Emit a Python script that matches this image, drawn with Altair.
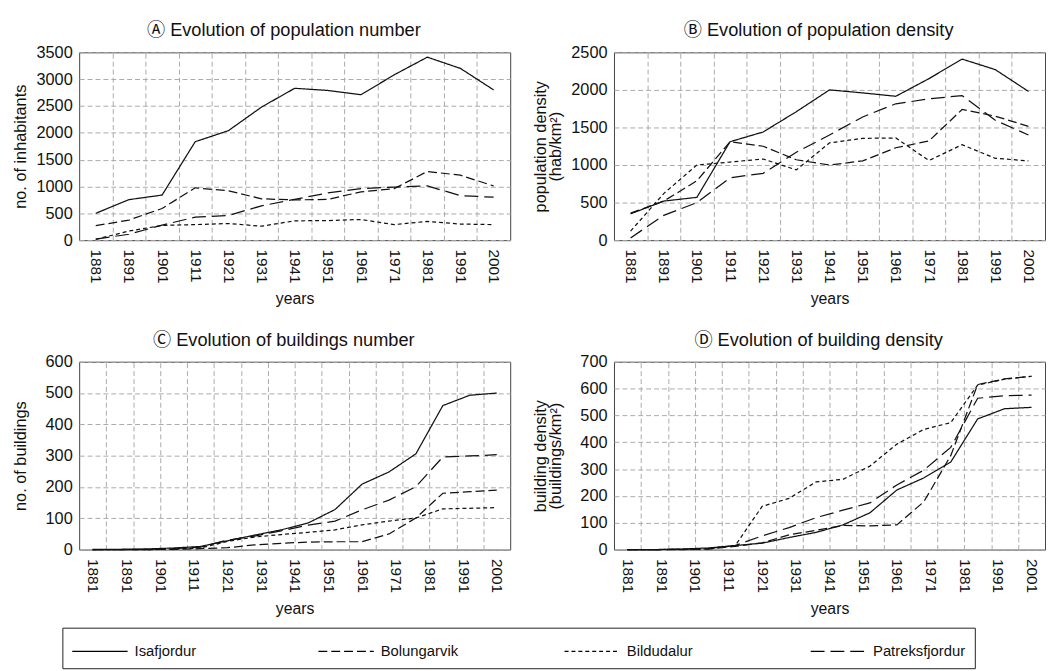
import altair as alt
import pandas as pd

# ---------------- data ----------------
towns = ["Isafjordur", "Bolungarvik", "Bildudalur", "Patreksfjordur"]
dashes = [[1, 0], [9, 4], [4, 3], [14, 6]]

years_pop = [1881, 1891, 1901, 1911, 1921, 1931, 1941, 1951, 1961, 1971, 1981, 1991, 2001]
years_bld = [1881, 1889, 1897, 1905, 1913, 1921, 1929, 1937, 1945, 1953, 1961, 1969, 1977, 1985, 1993, 2001]
label_years = [1881, 1891, 1901, 1911, 1921, 1931, 1941, 1951, 1961, 1971, 1981, 1991, 2001]
grid_pop = [1886, 1896, 1906, 1916, 1926, 1936, 1946, 1956, 1966, 1976, 1986, 1996]
grid_bld = [1885, 1893, 1901, 1909, 1917, 1925, 1933, 1941, 1949, 1957, 1965, 1973, 1981, 1989, 1997]

pop_isa = [500, 755, 840, 1835, 2040, 2480, 2830, 2790, 2710, 3080, 3410, 3200, 2800]
pop_bol = [270, 375, 590, 975, 920, 770, 750, 760, 900, 960, 1280, 1210, 1010]
pop_bil = [15, 170, 275, 290, 310, 260, 360, 365, 385, 290, 350, 300, 290]
pop_pat = [20, 110, 280, 430, 460, 640, 760, 880, 960, 990, 1010, 830, 800]

den_isa = [350, 520, 570, 1310, 1440, 1710, 2000, 1960, 1915, 2150, 2410, 2270, 1980]
den_bol = [360, 520, 790, 1310, 1250, 1070, 1000, 1055, 1230, 1320, 1740, 1650, 1515]
den_bil = [120, 620, 1000, 1040, 1080, 935, 1295, 1355, 1360, 1060, 1270, 1090, 1055]
den_pat = [30, 330, 500, 830, 890, 1170, 1400, 1640, 1815, 1880, 1925, 1595, 1400]

bld_isa = [1, 1, 2, 5, 10, 28, 46, 63, 85, 128, 209, 248, 306, 460, 493, 500]
bld_bol = [0, 0, 0, 1, 3, 6, 15, 20, 24, 25, 25, 50, 101, 180, 185, 190]
bld_bil = [0, 0, 0, 2, 5, 26, 40, 48, 55, 63, 79, 91, 101, 130, 132, 134]
bld_pat = [0, 0, 1, 3, 8, 30, 43, 60, 78, 91, 127, 158, 201, 296, 299, 303]

bden_isa = [0, 0, 2, 6, 15, 24, 45, 64, 92, 137, 222, 267, 326, 487, 525, 530]
bden_bol = [0, 0, 0, 2, 12, 25, 55, 72, 90, 88, 92, 178, 350, 615, 636, 646]
bden_bil = [0, 0, 1, 3, 15, 161, 191, 252, 262, 311, 393, 448, 473, 613, 635, 646]
bden_pat = [0, 0, 1, 4, 15, 51, 82, 119, 147, 174, 241, 296, 381, 564, 573, 576]

FONT = "Liberation Sans"
TITLE_FONT = "Liberation Sans, 'Noto Sans CJK JP', sans-serif"
W, H = 436, 190


def long_df(years, series):
    rows = []
    for town, vals in zip(towns, series):
        for y, v in zip(years, vals):
            rows.append({"year": y, "value": v, "town": town})
    return pd.DataFrame(rows)


legend = alt.Legend(
    orient="none", legendX=-17, legendY=582, direction="horizontal", columns=4,
    gridAlign="all", columnPadding=89, title=None,
    symbolType="M-1,0L3,0", symbolSize=784, symbolStrokeWidth=1.2,
    symbolStrokeColor="black",
    labelFontSize=15, labelFont=FONT, labelColor="#111", labelOffset=34,
    strokeColor="#222", fillColor="white", padding=9,
)


def panel(df, xdomain, grid_years, ymax, ystep, ytitle, title):
    xscale = alt.Scale(domain=xdomain, nice=False, zero=False)
    base = alt.Chart(df)
    grid = base.mark_point(opacity=0).encode(
        x=alt.X("year:Q", scale=xscale,
                axis=alt.Axis(values=grid_years, grid=True, labels=False, ticks=False,
                              domain=False, title=None, orient="bottom", zindex=0,
                              gridDash=[5, 3], gridColor="#aaaaaa", gridWidth=1)),
    )
    lines = base.mark_line(color="#111", strokeWidth=1.25).encode(
        x=alt.X("year:Q", scale=xscale,
                axis=alt.Axis(values=label_years, grid=False, ticks=False, domain=False,
                              orient="bottom", format="d", labelAngle=90, labelFontSize=15.5,
                              labelPadding=9, title="years", titleFontSize=16,
                              titlePadding=8)),
        y=alt.Y("value:Q", scale=alt.Scale(domain=[0, ymax], nice=False),
                axis=alt.Axis(values=list(range(0, ymax + 1, ystep)), format="d", grid=True,
                              gridDash=[5, 3], gridColor="#aaaaaa", ticks=False,
                              domain=False, labelFontSize=16.5, labelPadding=7,
                              minExtent=46, title=ytitle, titleFontSize=16.5,
                              titlePadding=5, titleLineHeight=15)),
        strokeDash=alt.StrokeDash("town:N", scale=alt.Scale(domain=towns, range=dashes),
                                  legend=legend),
        detail="town:N",
    )
    return alt.layer(grid, lines).resolve_axis(x="independent").properties(
        width=W, height=H,
        title=alt.TitleParams(text=title, fontSize=18.4, font=TITLE_FONT, fontWeight="normal",
                              anchor="middle", frame="group", dx=-11, offset=5,
                              color="#111"),
    )


pA = panel(long_df(years_pop, [pop_isa, pop_bol, pop_bil, pop_pat]), [1876, 2006], grid_pop,
           3500, 500, "no. of inhabitants", "\u24b6   Evolution of population number")
pB = panel(long_df(years_pop, [den_isa, den_bol, den_bil, den_pat]), [1876, 2006], grid_pop,
           2500, 500, ["population density", "(hab/km\u00b2)"], "\u24b7   Evolution of population density")
pC = panel(long_df(years_bld, [bld_isa, bld_bol, bld_bil, bld_pat]), [1877, 2005], grid_bld,
           600, 100, "no. of buildings", "\u24b8   Evolution of buildings number")
pD = panel(long_df(years_bld, [bden_isa, bden_bol, bden_bil, bden_pat]), [1877, 2005], grid_bld,
           700, 100, ["building density", "(buildings/km\u00b2)"], "\u24b9   Evolution of building density")

chart = alt.vconcat(
    alt.hconcat(pA, pB, spacing=21),
    alt.hconcat(pC, pD, spacing=21),
    spacing=23,
).properties(
    padding={"left": 4, "top": 9, "right": 0, "bottom": 0},
    background="white",
).configure(font=FONT).configure_view(
    stroke="#444", strokeWidth=1
).configure_axis(
    labelColor="#111", titleColor="#111", labelFont=FONT, titleFont=FONT,
    titleFontWeight="normal"
)

chart.save("out.html", embed_options={"renderer": "svg", "actions": False})
